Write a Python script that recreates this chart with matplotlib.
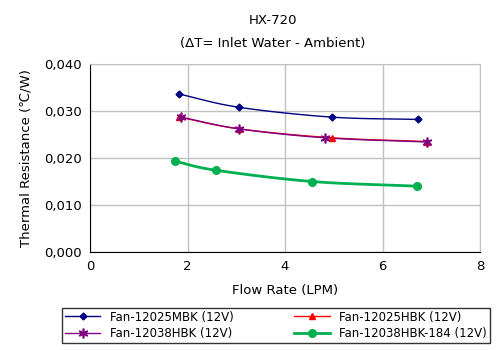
import numpy as np
import matplotlib
matplotlib.use("Agg")
import matplotlib.pyplot as plt
from matplotlib.ticker import FuncFormatter

plt.rcParams['font.family'] = ['DejaVu Sans']

series_names = ["Fan-12025MBK (12V)", "Fan-12025HBK (12V)", "Fan-12038HBK (12V)", "Fan-12038HBK-184 (12V)"]
x_mbk = [1.83, 3.05, 4.96, 6.72]
y_mbk = [0.0336, 0.0308, 0.0287, 0.0282]
x_hbk = [1.83, 3.06, 4.96, 6.91]
y_hbk = [0.0287, 0.0262, 0.0243, 0.0235]
x_38 = [1.86, 3.06, 4.82, 6.91]
y_38 = [0.0287, 0.0262, 0.0243, 0.0234]
x_184 = [1.75, 2.58, 4.56, 6.71]
y_184 = [0.0193, 0.0174, 0.0150, 0.0140]

colors = ["#000080", "#FF0000", "#800080", "#00B050"]
markers = ["D", "^", (6, 2, 0), "o"]
msizes = [3.5, 5, 7, 5.5]
mews = [1, 1, 1.2, 1]
lws = [1.0, 1.0, 1.0, 2.0]

def smooth(xs, ys, n=30):
    xs = np.asarray(xs, float); ys = np.asarray(ys, float)
    P = np.column_stack([xs, ys])
    P = np.vstack([2*P[0]-P[1], P, 2*P[-1]-P[-2]])
    out = []
    for i in range(1, len(P)-2):
        p0, p1, p2, p3 = P[i-1], P[i], P[i+1], P[i+2]
        t = np.linspace(0, 1, n)[:, None]
        seg = 0.5*((2*p1) + (-p0+p2)*t + (2*p0-5*p1+4*p2-p3)*t**2 + (-p0+3*p1-3*p2+p3)*t**3)
        out.append(seg)
    out = np.vstack(out)
    return out[:, 0], out[:, 1]

fig = plt.figure(figsize=(4.96, 3.5), dpi=100)
ax = fig.add_axes([90/496, 1-252/350, 390/496, 188/350])

data = [(x_mbk, y_mbk), (x_hbk, y_hbk), (x_38, y_38), (x_184, y_184)]
handles = []
for (xs, ys), c, m, ms, mew, lw, name in zip(data, colors, markers, msizes, mews, lws, series_names):
    sx, sy = smooth(xs, ys)
    ax.plot(sx, sy, color=c, lw=lw, zorder=3)
    ax.plot(xs, ys, linestyle='none', marker=m, color=c, ms=ms, mew=mew, zorder=4)
    h, = ax.plot([], [], color=c, lw=lw, marker=m, ms=ms, mew=mew, label=name)
    handles.append(h)

ax.set_xlim(0, 8)
ax.set_ylim(0, 0.04)
ax.set_xticks([0, 2, 4, 6, 8])
ax.set_yticks([0, 0.01, 0.02, 0.03, 0.04])
ax.yaxis.set_major_formatter(FuncFormatter(lambda v, p: f"{v:.3f}".replace('.', ',')))
ax.grid(True, color='#c0c0c0', lw=1)
ax.set_axisbelow(True)
ax.tick_params(length=0, labelsize=9.5, pad=6)
for s in ['top', 'right']:
    ax.spines[s].set_color('#c0c0c0')
for s in ['left', 'bottom']:
    ax.spines[s].set_color('black')

ax.set_xlabel("Flow Rate (LPM)", fontsize=9.5, labelpad=8)
ax.set_ylabel("Thermal Resistance (℃/W)", fontsize=9.5, labelpad=8)

fig.text(0.55, 1-20/350, "HX-720", ha='center', va='center', fontsize=9.5)
fig.text(0.55, 1-43/350, "(ΔT= Inlet Water - Ambient)", ha='center', va='center', fontsize=9.5)

order = [0, 2, 1, 3]
leg = fig.legend(handles=[handles[i] for i in order], loc='lower left', ncol=2,
                 bbox_to_anchor=(62/496, 1-343/350, 428/496, 37/350), mode='expand',
                 fontsize=8.5, frameon=True, fancybox=False, edgecolor='black',
                 handlelength=3, borderpad=0.25, labelspacing=0.3, borderaxespad=0)
leg.get_frame().set_linewidth(1.0)

fig.savefig("out.png", dpi=100)
